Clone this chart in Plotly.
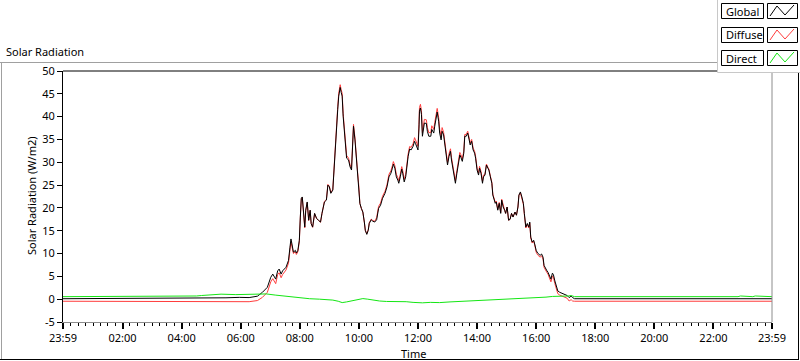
import plotly.graph_objects as go

# ---------------- data ----------------
TIME_G = ["23:59", "04:30", "05:00", "05:30", "05:57", "06:17", "06:34", "06:44", "06:54",
          "07:01", "07:05", "07:08", "07:11", "07:15", "07:18", "07:22", "07:25", "07:32", "07:37",
          "07:40", "07:42", "07:44", "07:47", "07:51", "07:53", "07:56", "07:59", "08:01", "08:03",
          "08:05", "08:07", "08:10", "08:12", "08:15", "08:18", "08:21", "08:23", "08:26", "08:30",
          "08:34", "08:38", "08:42", "08:45", "08:48", "08:50", "08:54", "08:57", "09:00", "09:03",
          "09:07", "09:10", "09:12", "09:15", "09:17", "09:19", "09:22", "09:24", "09:26", "09:28",
          "09:31", "09:33", "09:35", "09:39", "09:42", "09:45", "09:47", "09:49", "09:52", "09:54",
          "09:57", "10:00", "10:02", "10:05", "10:08", "10:11", "10:13", "10:16", "10:19", "10:21",
          "10:25", "10:28", "10:32", "10:36", "10:40", "10:44", "10:48", "10:53", "10:57", "11:01",
          "11:05", "11:08", "11:10", "11:13", "11:16", "11:19", "11:21", "11:24", "11:27", "11:29",
          "11:32", "11:35", "11:37", "11:40", "11:43", "11:46", "11:50", "11:53", "11:55", "11:58",
          "12:00", "12:02", "12:03", "12:05", "12:07", "12:09", "12:11", "12:13", "12:17", "12:19",
          "12:22", "12:26", "12:28", "12:32", "12:34", "12:37", "12:39", "12:42", "12:44", "12:47",
          "12:49", "12:52", "12:55", "12:58", "13:00", "13:03", "13:06", "13:08", "13:11", "13:14",
          "13:16", "13:19", "13:22", "13:25", "13:27", "13:30", "13:33", "13:35", "13:38", "13:41",
          "13:44", "13:46", "13:49", "13:52", "13:55", "13:57", "14:00", "14:03", "14:05", "14:08",
          "14:11", "14:13", "14:16", "14:19", "14:22", "14:24", "14:27", "14:30", "14:32", "14:34",
          "14:37", "14:39", "14:42", "14:45", "14:48", "14:50", "14:53", "14:56", "14:58", "15:01",
          "15:04", "15:07", "15:10", "15:13", "15:17", "15:20", "15:23", "15:25", "15:28", "15:31",
          "15:34", "15:36", "15:39", "15:42", "15:45", "15:47", "15:49", "15:52", "15:55", "15:57",
          "16:00", "16:03", "16:06", "16:08", "16:11", "16:14", "16:16", "16:19", "16:22", "16:24",
          "16:27", "16:30", "16:33", "16:35", "16:38", "16:41", "16:44", "16:48", "16:54", "16:58",
          "17:03", "17:07", "17:11", "17:14", "17:18", "23:59"]

GLOBAL = [0.1, 0.15, 0.3, 0.3, 0.4, 0.35, 0.66, 1.5, 2.6,
          4.8, 5.5, 4.9, 4.4, 6.2, 6.6, 5.5, 6.2, 7.0, 8.5,
          11.4, 13.2, 12.1, 10.3, 10.7, 10.1, 10.7, 12.9, 18.0, 22.1,
          22.4, 20.2, 15.8, 19.5, 21.3, 17.3, 19.5, 16.6, 15.8, 18.8,
          17.7, 17.3, 16.9, 18.8, 20.6, 21.3, 21.7, 25.0, 24.6, 23.2,
          23.9, 29.8, 34.2, 37.2, 41.6, 44.5, 46.4, 45.3, 44.5, 40.1,
          35.7, 32.4, 30.9, 30.5, 29.0, 28.3, 35.7, 37.9, 34.9, 32.0,
          28.3, 24.6, 21.0, 19.9, 19.1, 16.9, 15.1, 14.2, 15.1, 16.6,
          17.4, 17.1, 16.9, 17.4, 19.9, 20.6, 22.1, 23.2, 24.6, 26.8,
          27.6, 28.7, 29.6, 28.7, 26.8, 26.1, 25.4, 26.8, 28.5, 27.6,
          25.7, 26.8, 28.7, 31.3, 32.9, 32.7, 33.5, 34.6, 34.1, 33.1,
          32.7, 37.5, 41.2, 41.9, 40.5, 35.7, 37.9, 38.6, 38.5, 36.8,
          35.7, 35.7, 37.2, 36.4, 37.9, 40.5, 41.0, 39.0, 36.4, 34.9,
          36.8, 36.0, 33.5, 30.5, 29.4, 31.3, 32.4, 30.5, 28.3, 26.1,
          25.4, 27.6, 29.8, 31.6, 31.1, 30.2, 32.0, 35.7, 35.7, 36.4,
          34.9, 33.8, 34.6, 32.7, 32.0, 30.9, 28.3, 27.2, 28.7, 27.6,
          25.4, 26.8, 27.2, 29.4, 28.7, 28.3, 26.8, 25.4, 22.8, 22.1,
          21.0, 21.3, 19.5, 21.0, 18.8, 21.7, 20.2, 19.5, 18.8, 20.2,
          17.3, 17.5, 18.8, 18.0, 19.1, 18.4, 20.2, 22.8, 23.5, 22.4,
          21.0, 18.8, 15.8, 16.6, 15.8, 16.9, 13.6, 12.5, 12.9, 12.1,
          10.7, 10.1, 9.9, 9.6, 9.9, 9.2, 7.4, 6.6, 6.2, 5.9,
          5.1, 4.4, 5.7, 5.4, 4.0, 2.6, 1.8, 1.5, 1.2, 0.9,
          0.8, 0.35, 0.66, 0.35, 0.1, 0.1]

DIFFUSE = [-0.45, -0.55, -0.6, -0.6, -0.55, -0.55, -0.3, 0.4, 1.5,
           3.8, 4.5, 3.9, 3.4, 5.4, 5.8, 4.7, 5.4, 6.4, 7.9,
           10.8, 12.6, 11.5, 10.0, 10.4, 9.8, 10.4, 12.6, 17.85, 21.95,
           22.25, 20.05, 15.65, 19.35, 21.15, 17.25, 19.45, 16.55, 15.75, 18.75,
           17.65, 17.25, 16.85, 18.75, 20.75, 21.45, 21.85, 25.15, 24.75, 23.35,
           24.05, 29.95, 34.8, 37.8, 42.2, 45.1, 47.0, 45.9, 45.1, 40.7,
           36.3, 33.0, 31.5, 30.9, 29.4, 28.7, 36.1, 38.3, 35.3, 31.95,
           28.25, 24.55, 20.95, 19.85, 19.05, 16.85, 15.05, 14.35, 15.25, 16.75,
           17.55, 17.25, 17.05, 17.85, 20.35, 21.05, 22.55, 23.65, 25.05, 27.35,
           28.15, 29.25, 30.15, 29.25, 27.35, 26.65, 25.95, 27.35, 29.05, 28.15,
           26.25, 27.35, 29.25, 31.85, 33.45, 33.25, 34.05, 35.4, 34.9, 33.9,
           33.5, 38.3, 42.0, 42.7, 41.3, 36.5, 38.7, 39.4, 39.3, 37.6,
           36.5, 36.5, 38.0, 37.2, 38.7, 41.3, 41.8, 39.8, 37.2, 35.7,
           37.6, 36.55, 34.05, 31.05, 29.95, 31.85, 32.95, 31.05, 28.85, 26.65,
           25.95, 28.15, 30.35, 32.15, 31.65, 30.75, 32.4, 36.1, 36.1, 36.8,
           35.3, 34.2, 35.0, 33.1, 32.4, 31.3, 28.7, 27.6, 29.1, 28.0,
           25.8, 27.2, 27.4, 29.6, 28.9, 28.5, 27.0, 25.6, 23.0, 22.3,
           21.2, 21.5, 19.7, 21.2, 19.0, 21.9, 20.4, 19.5, 18.8, 20.2,
           17.3, 17.5, 18.8, 18.0, 19.1, 18.4, 20.2, 22.8, 23.3, 22.2,
           20.8, 18.6, 15.6, 16.4, 15.6, 16.7, 13.4, 12.3, 12.7, 11.9,
           10.3, 9.7, 9.5, 9.2, 9.5, 8.8, 7.0, 6.2, 5.8, 5.5,
           4.5, 3.8, 5.1, 4.8, 3.4, 2.0, 1.2, 0.9, 0.6, 0.3,
           0.2, -0.4, -0.1, -0.4, -0.45, -0.45]

TIME_D = ["23:59", "02:30", "02:36", "02:40", "03:30", "03:33", "03:36", "04:00", "04:30",
          "04:40", "05:00", "05:20", "05:50", "06:10", "06:38", "06:52", "07:10", "07:33",
          "07:45", "08:00", "08:20", "08:40", "09:07", "09:18", "09:26", "09:35", "09:48",
          "10:00", "10:08", "10:18", "10:28", "10:42", "10:56", "11:15", "11:36", "11:50",
          "12:09", "12:25", "12:44", "13:05", "13:24", "13:45", "14:05", "14:25", "14:46",
          "15:05", "15:27", "15:45", "16:07", "16:20", "16:33", "16:54", "17:05", "17:11",
          "17:18", "22:50", "22:55", "23:20", "23:25", "23:59"]

DIRECT = [0.55, 0.55, 0.7, 0.55, 0.55, 0.7, 0.55, 0.6, 0.7,
          0.8, 0.9, 1.1, 1.0, 1.1, 1.1, 1.15, 0.9, 0.6,
          0.4, 0.2, 0.1, 0.0, -0.2, -0.45, -0.75, -0.6, -0.37,
          0.0, 0.13, 0.0, -0.2, -0.4, -0.5, -0.5, -0.55, -0.7,
          -0.8, -0.7, -0.75, -0.6, -0.5, -0.45, -0.37, -0.25, -0.15,
          -0.05, 0.05, 0.2, 0.35, 0.45, 0.6, 0.57, 0.7, 0.8,
          0.55, 0.55, 0.7, 0.55, 0.7, 0.55]

MAJOR_MIN = [-1, 120, 240, 360, 480, 600, 720, 840, 960, 1080, 1200, 1320, 1439]
MAJOR_TXT = ["23:59", "02:00", "04:00", "06:00", "08:00", "10:00", "12:00",
             "14:00", "16:00", "18:00", "20:00", "22:00", "23:59"]
Y_TICKS = [-5, 0, 5, 10, 15, 20, 25, 30, 35, 40, 45, 50]

SERIES_NAMES = ["Global", "Diffuse", "Direct"]
COLORS = {"Global": "#000000", "Diffuse": "#ff3c3c", "Direct": "#14e614"}


def to_minutes(times):
    out = []
    for i, s in enumerate(times):
        h, m = s.split(":")
        v = int(h) * 60 + int(m)
        if i == 0 and v > 720:
            v -= 1440          # 23:59 of the previous day
        out.append(v)
    return out


xg = to_minutes(TIME_G)
xd = to_minutes(TIME_D)

FONT = "Noto Sans, Segoe UI, Arial, sans-serif"
W, H = 800, 361
L, R, T, B = 63, 772, 71, 322


def PX(p):
    return (p - L) / (R - L)


def PY(p):
    return (B - p) / (B - T)


fig = go.Figure()
fig.add_trace(go.Scatter(x=xg, y=DIFFUSE, mode="lines", name="Diffuse",
                         line=dict(color=COLORS["Diffuse"], width=1), showlegend=False))
fig.add_trace(go.Scatter(x=xg, y=GLOBAL, mode="lines", name="Global",
                         line=dict(color=COLORS["Global"], width=1), showlegend=False))
fig.add_trace(go.Scatter(x=xd, y=DIRECT, mode="lines", name="Direct",
                         line=dict(color=COLORS["Direct"], width=1), showlegend=False))

minor_vals = [m for m in range(15, 1440, 15) if m % 120 != 0]

fig.update_layout(
    width=W, height=H,
    margin=dict(l=L, r=W - R, t=T, b=H - B, pad=0),
    paper_bgcolor="white", plot_bgcolor="white",
    font=dict(family=FONT, size=11, color="#000000"),
    xaxis=dict(range=[-1, 1439], tickmode="array", tickvals=MAJOR_MIN, ticktext=MAJOR_TXT,
               showgrid=False, zeroline=False, showline=True, linecolor="#8c8c8c", linewidth=1,
               ticks="outside", ticklen=6, tickwidth=2, tickcolor="#000000",
               tickfont=dict(family=FONT, size=11, color="#000000"),
               minor=dict(tickmode="array", tickvals=minor_vals, ticks="outside",
                          ticklen=3, tickwidth=1, tickcolor="#000000", showgrid=False)),
    yaxis=dict(range=[-5, 50], tickmode="array", tickvals=Y_TICKS,
               ticktext=[str(v) for v in Y_TICKS],
               showgrid=False, zeroline=False, showline=True, linecolor="#000000", linewidth=1,
               ticks="outside", ticklen=5, tickwidth=1, tickcolor="#000000",
               tickfont=dict(family=FONT, size=11, color="#000000")),
)

shapes = []
# outer panel frame
shapes.append(dict(type="line", xref="paper", yref="paper", x0=PX(0), x1=PX(717), y0=PY(62.5), y1=PY(62.5),
                   line=dict(color="#a0a0a0", width=1)))
shapes.append(dict(type="line", xref="paper", yref="paper", x0=PX(1.5), x1=PX(1.5), y0=PY(62.5), y1=PY(359.5),
                   line=dict(color="#a0a0a0", width=1)))
shapes.append(dict(type="line", xref="paper", yref="paper", x0=PX(0), x1=PX(799), y0=PY(359.5), y1=PY(359.5),
                   line=dict(color="#000000", width=1)))
shapes.append(dict(type="line", xref="paper", yref="paper", x0=PX(798.5), x1=PX(798.5), y0=PY(72), y1=PY(359.5),
                   line=dict(color="#000000", width=1)))
# plot area: top black, right grey
shapes.append(dict(type="line", xref="paper", yref="paper", x0=0, x1=1, y0=1, y1=1,
                   line=dict(color="#000000", width=1)))
shapes.append(dict(type="line", xref="paper", yref="paper", x0=1, x1=1, y0=0, y1=1,
                   line=dict(color="#8c8c8c", width=1)))
# legend panel
shapes.append(dict(type="rect", xref="paper", yref="paper", x0=PX(717.5), x1=PX(801), y0=PY(-1), y1=PY(72.5),
                   line=dict(color="#c8c8c8", width=1), fillcolor="white"))

legend_rows = [(3, 18), (27, 42), (50, 65)]
annotations = []
for name, (y0, y1) in zip(SERIES_NAMES, legend_rows):
    shapes.append(dict(type="rect", xref="paper", yref="paper", x0=PX(721.5), x1=PX(763.5),
                       y0=PY(y0 + 0.5), y1=PY(y1 + 0.5), line=dict(color="#000000", width=1),
                       fillcolor="white"))
    shapes.append(dict(type="rect", xref="paper", yref="paper", x0=PX(767.5), x1=PX(797.5),
                       y0=PY(y0 + 0.5), y1=PY(y1 + 0.5), line=dict(color="#000000", width=1),
                       fillcolor="white"))
    pts = [(770, y1 - 2), (777, y0 + 3), (785, y1 - 3), (794, y0 + 2)]
    path = "M " + " L ".join(f"{PX(a):.5f},{PY(b):.5f}" for a, b in pts)
    shapes.append(dict(type="path", xref="paper", yref="paper", path=path,
                       line=dict(color=COLORS[name], width=1)))
    annotations.append(dict(text=name, xref="paper", yref="paper", x=PX(724), y=PY((y0 + y1) / 2 + 0.5),
                            xanchor="left", yanchor="middle", showarrow=False,
                            font=dict(family=FONT, size=11, color="#000000")))

annotations.append(dict(text="Solar Radiation", xref="paper", yref="paper", x=PX(4), y=PY(51),
                        xanchor="left", yanchor="middle", showarrow=False,
                        font=dict(family=FONT, size=11, color="#000000")))
annotations.append(dict(text="Solar Radiation (W/m2)", xref="paper", yref="paper", x=PX(31), y=PY(196),
                        xanchor="center", yanchor="middle", textangle=-90, showarrow=False,
                        font=dict(family=FONT, size=11, color="#000000")))
annotations.append(dict(text="Time", xref="paper", yref="paper", x=PX(413), y=PY(353),
                        xanchor="center", yanchor="middle", showarrow=False,
                        font=dict(family=FONT, size=11, color="#000000")))

fig.update_layout(shapes=shapes, annotations=annotations)
fig.write_html("out.html",
               config={"displayModeBar": False},
               post_script="document.body.style.margin='0';document.body.style.overflow='hidden';")
